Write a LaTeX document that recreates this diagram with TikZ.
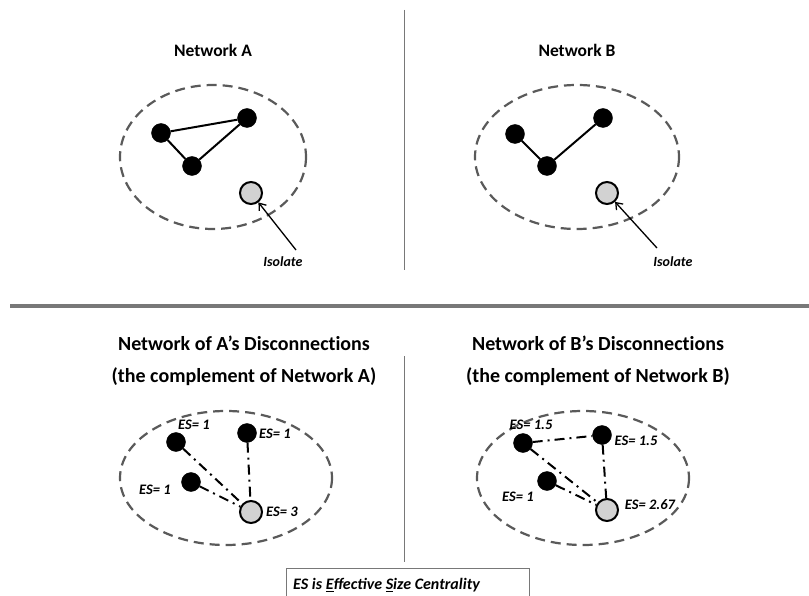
\documentclass[tikz,border=0pt]{standalone}
\usepackage{fontspec}
\setmainfont{Carlito}
\newfontfamily\titlefont{Carlito}[Ligatures=NoCommon]
\usetikzlibrary{arrows.meta}
\definecolor{dashgray}{RGB}{90,90,90}
\definecolor{fillgray}{RGB}{210,210,210}
\definecolor{divgray}{RGB}{120,120,120}
\tikzset{
  blk/.style={circle,fill=black,draw=black,inner sep=0pt,minimum size=19pt},
  isol/.style={circle,fill=fillgray,draw=black,line width=2pt,inner sep=0pt,minimum size=22pt},
  bound/.style={draw=dashgray,line width=2.2pt,dash pattern=on 10pt off 6pt},
  tie/.style={line width=2pt,draw=black},
  nontie/.style={line width=2pt,draw=black,dash pattern=on 10pt off 5pt on 2pt off 5pt},
  ttl/.style={font=\bfseries\fontsize{17.5}{19}\selectfont,inner sep=0pt},
  btl/.style={font=\titlefont\bfseries\fontsize{20}{32}\selectfont,inner sep=0pt,align=center},
  eslab/.style={font=\bfseries\itshape\fontsize{14.5}{16}\selectfont,inner sep=0pt},
  isolab/.style={font=\bfseries\itshape\fontsize{14}{16}\selectfont,inner sep=0pt},
  pointer/.style={line width=1.3pt,-{Straight Barb[length=6pt,width=9pt,line width=1.3pt]}},
}
\begin{document}
\begin{tikzpicture}[x=1pt,y=-1pt]
\useasboundingbox[fill=white] (0,0) rectangle (809,596);

% dividers
\draw[draw=divgray,line width=0.8pt] (404,10) -- (404,270);
\draw[draw=divgray,line width=4pt] (10,306) -- (809,306);
\draw[draw=divgray,line width=0.8pt] (404,356) -- (404,562);

% ---------- Network A ----------
\node[ttl] (tA) at (213,50) {Network A};
\draw[bound] (213,157) ellipse [x radius=93,y radius=72];
\node[blk] (a1) at (161,133) {};
\node[blk] (a2) at (247,118) {};
\node[blk] (a3) at (192,166) {};
\node[isol] (a4) at (251,193) {};
\draw[tie] (a1) -- (a2);
\draw[tie] (a1) -- (a3);
\draw[tie] (a3) -- (a2);
\node[isolab] (isoA) at (283,262) {Isolate};
\coordinate (pA) at (296,250);
\draw[pointer] (pA) -- (a4);

% ---------- Network B ----------
\node[ttl] (tB) at (577,50) {Network B};
\draw[bound] (577,157) ellipse [x radius=102,y radius=72];
\node[blk] (b1) at (515,134) {};
\node[blk] (b2) at (603,118) {};
\node[blk] (b3) at (547,166) {};
\node[isol] (b4) at (607,193) {};
\draw[tie] (b1) -- (b3);
\draw[tie] (b3) -- (b2);
\node[isolab] (isoB) at (673,262) {Isolate};
\coordinate (pB) at (657,248);
\draw[pointer] (pB) -- (b4);

% ---------- Complement of A ----------
\node[btl] (tcA) at (244,361) {Network of A’s Disconnections\\(the complement of Network A)};
\draw[bound] (226,478) ellipse [x radius=106,y radius=67];
\node[blk] (c1) at (176,442) {};
\node[blk] (c2) at (247,433) {};
\node[blk] (c3) at (191,482) {};
\node[isol] (c4) at (251,512) {};
\draw[nontie] (c1) -- (c4);
\draw[nontie] (c3) -- (c4);
\draw[nontie] (c2) -- (c4);
\node[eslab] (ec1) at (194,425) {ES= 1};
\node[eslab] (ec2) at (275,434) {ES= 1};
\node[eslab] (ec3) at (155,490) {ES= 1};
\node[eslab] (ec4) at (282,512) {ES= 3};

% ---------- Complement of B ----------
\node[btl] (tcB) at (598,361) {Network of B’s Disconnections\\(the complement of Network B)};
\draw[bound] (583,478) ellipse [x radius=106,y radius=67];
\node[blk] (d1) at (523,443) {};
\node[blk] (d2) at (602,435) {};
\node[blk] (d3) at (547,481) {};
\node[isol] (d4) at (607,510) {};
\draw[nontie] (d1) -- (d2);
\draw[nontie] (d1) -- (d4);
\draw[nontie] (d3) -- (d4);
\draw[nontie] (d2) -- (d4);
\node[eslab] (ed1) at (531,425) {ES= 1.5};
\node[eslab] (ed2) at (636,441) {ES= 1.5};
\node[eslab] (ed3) at (518,497) {ES= 1};
\node[eslab] (ed4) at (650,505) {ES= 2.67};

% ---------- Legend ----------
\draw[draw=divgray,line width=0.8pt] (286,600) -- (286,568) -- (529,568) -- (529,600);
\node[font=\bfseries\itshape\fontsize{16}{18}\selectfont,anchor=west,inner sep=0pt] (leg) at (293,585) {ES is \underline{E}ffective \underline{S}ize Centrality};
\end{tikzpicture}
\end{document}
